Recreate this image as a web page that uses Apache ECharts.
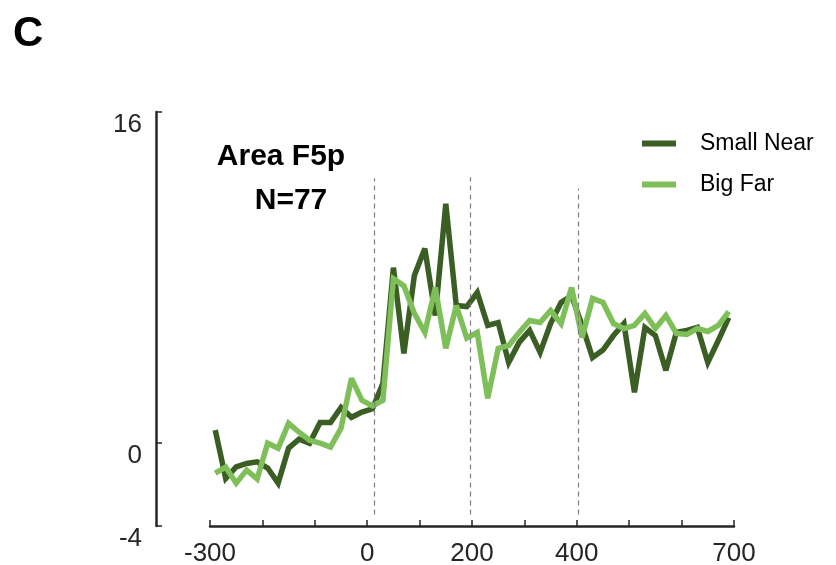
<!DOCTYPE html>
<html>
<head>
<meta charset="utf-8">
<script src="https://cdn.jsdelivr.net/npm/echarts@6/dist/echarts.min.js"></script>
<style>
html,body{margin:0;padding:0;background:#fff;}
#chart{width:836px;height:565px;}
</style>
</head>
<body>
<div id="chart"></div>
<script>
var times = [-290,-270,-250,-230,-210,-190,-170,-150,-130,-110,-90,-70,-50,-30,-10,10,30,50,70,90,110,130,150,170,190,210,230,250,270,290,310,330,350,370,390,410,430,450,470,490,510,530,550,570,590,610,630,650,670,690];
var smallNear = [0.63,-1.7,-1.15,-0.98,-0.9,-1.2,-1.93,-0.24,0.19,0.0,1.0,1.0,1.73,1.25,1.5,1.66,2.9,8.48,4.34,8.1,9.4,6.17,11.57,6.65,6.6,7.28,5.69,5.83,3.9,4.87,5.45,4.39,5.78,6.8,7.13,5.69,4.14,4.5,5.2,5.78,2.46,5.59,5.2,3.52,5.35,5.45,5.59,3.9,4.96,6.07];
var bigFar = [-1.45,-1.16,-1.93,-1.3,-1.73,0.0,-0.24,0.96,0.53,0.14,0.0,-0.19,0.72,3.13,2.07,1.8,2.07,7.95,7.6,6.27,5.35,7.52,4.58,6.65,5.08,5.35,2.17,4.58,4.72,5.35,5.93,5.83,6.41,5.78,7.52,5.11,6.99,6.8,5.78,5.54,5.69,6.27,5.54,6.17,5.3,5.25,5.54,5.4,5.69,6.36];
var seriesNames = ['Small Near','Big Far'];
var xTickLabels = [-300,0,200,400,700];
var yTickLabels = [-4,0,16];
var eventLines = [13,197,402];
var eventTops = [12.8,12.85,12.3];
var panelTitle = 'Area F5p';
var panelN = 'N=77';
var panelLetter = 'C';

function pairs(vals){ return vals.map(function(v,i){ return [times[i], v]; }); }

var FONT = '"Liberation Sans", Arial, Helvetica, sans-serif';
var chart = echarts.init(document.getElementById('chart'));
var markData = eventLines.map(function(x,i){
  return [{coord:[x,-3.45]},{coord:[x,eventTops[i]]}];
});
chart.setOption({
  animation:false,
  backgroundColor:'#ffffff',
  title:[
    {text:panelLetter,left:8,top:8,textStyle:{fontFamily:FONT,fontSize:42,fontWeight:'bold',color:'#000'}},
    {text:panelTitle,left:276,top:137,textAlign:'center',textStyle:{fontFamily:FONT,fontSize:30,fontWeight:'bold',color:'#000'}},
    {text:panelN,left:286,top:181,textAlign:'center',textStyle:{fontFamily:FONT,fontSize:30,fontWeight:'bold',color:'#000'}}
  ],
  legend:{
    orient:'vertical',left:637,top:127,itemWidth:34,itemHeight:6,itemGap:18,icon:'rect',
    textStyle:{fontFamily:FONT,fontSize:23,color:'#000',padding:[0,0,0,19]},
    data:seriesNames
  },
  grid:{left:210,right:102,top:112,bottom:39,containLabel:false,outerBoundsMode:'none'},
  xAxis:{
    type:'value',min:-300,max:700,interval:100,
    axisLine:{show:true,onZero:false,lineStyle:{color:'#262626',width:2.5}},
    axisTick:{show:true,inside:true,length:6,lineStyle:{color:'#262626',width:1.5}},
    axisLabel:{customValues:xTickLabels,fontFamily:FONT,fontSize:26,color:'#262626',margin:15},
    splitLine:{show:false}
  },
  yAxis:{
    type:'value',min:-4,max:16,offset:54,
    axisLine:{show:true,onZero:false,lineStyle:{color:'#262626',width:2.5}},
    axisTick:{show:true,inside:true,length:6,customValues:yTickLabels,lineStyle:{color:'#262626',width:1.5}},
    axisLabel:{customValues:yTickLabels,fontFamily:FONT,fontSize:26,color:'#262626',margin:14,verticalAlign:'top',lineHeight:26},
    splitLine:{show:false}
  },
  series:[
    {name:seriesNames[0],type:'line',data:pairs(smallNear),showSymbol:false,symbol:'none',
     itemStyle:{color:'#3b5e24'},lineStyle:{color:'#3b5e24',width:5.5,join:'miter',miterLimit:3},
     markLine:{silent:true,symbol:'none',label:{show:false},lineStyle:{color:'#7f7f7f',type:[5,4],width:1.2},data:markData}},
    {name:seriesNames[1],type:'line',data:pairs(bigFar),showSymbol:false,symbol:'none',
     itemStyle:{color:'#7fbf5a'},lineStyle:{color:'#7fbf5a',width:5.5,join:'miter',miterLimit:3}}
  ]
});
</script>
</body>
</html>
